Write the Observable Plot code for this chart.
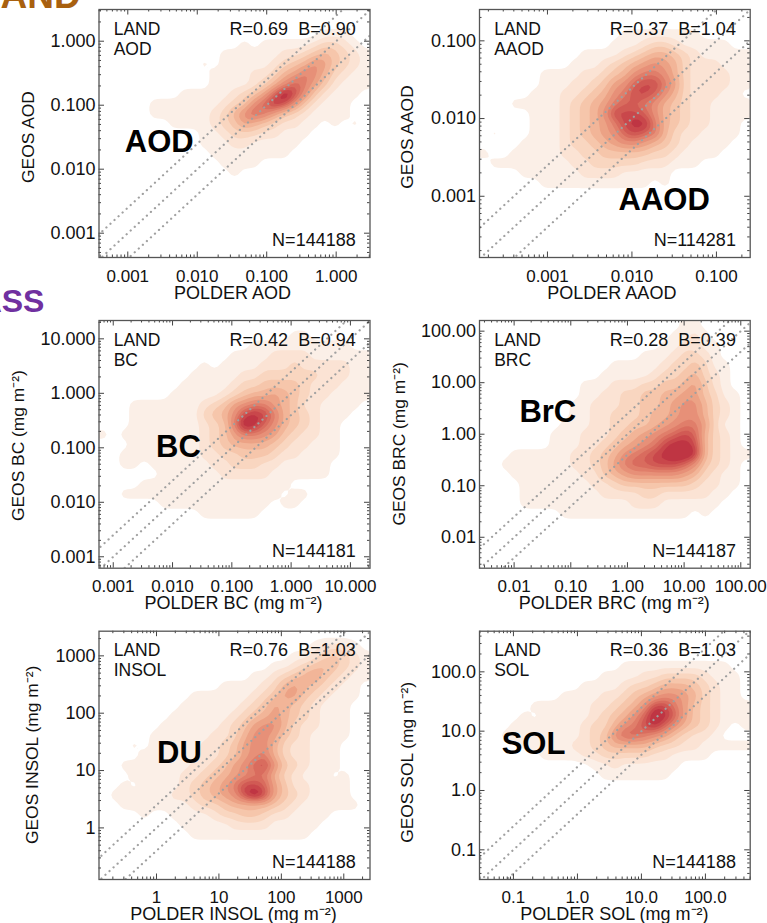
<!DOCTYPE html>
<html><head><meta charset="utf-8">
<script src="https://cdn.jsdelivr.net/npm/d3@7"></script>
<script src="https://cdn.jsdelivr.net/npm/@observablehq/plot@0.6"></script>
<style>
html,body{margin:0;padding:0;background:#fff;}
#page{position:relative;width:767px;height:923px;overflow:hidden;font-family:"Liberation Sans",Arial,sans-serif;}
#page>div{position:absolute;}
.head{font-weight:bold;font-size:37px;line-height:1;white-space:pre;}
svg{display:block;}
</style></head><body><div id="page"></div>
<script>
// Density levels (hex digit per cell, 0 = empty, c = darkest). Rows run top to bottom.
const aodGrid=["","","0000000000000000000000111","000000000000001011111233210","000000000000111111223454321","000000000010111112345764321","000000000001111223568753211","000000000001111235798642111","000000001111123469ca7421110","00000111111123479ba742111","0000011111123579864321111","00000001111234654322110101","000000000011233322111","00000000001112211111","0000000000011111111","0000000000001111","00000000000001"];
const aaodGrid=["","","0000000000000011111111","0000000000000111233211111","000000000011112345543211111","000000000111234567653222111","000000111122345788753222211","0000001112234679aa863222211","000001112234578aa9753222110","000111112345689987543221111","0000011123457aaa97543221111","00000111234568abb8543221110","010001112345679a98532211110","0000111123345677654321111","100111112233444443321111","0111111112233333222111","0000111111222211111","0000001111111111101"];
const bcGrid=["","000000000000000000011","0000000000000001111111111","000000000000011112222111111","000000000010111122232222211","000000000111112233333322211","000000001111123344443222111","000000011111234556543221111","00011111112346788654221111","00011111113457aba854321110","00011111112348cb97543211","101111111123468876432211","000111111123455554322111","001111111122334443221111","00110111111223332211111","00000011111122222111111","0000111111111111111","001111111111111111011","00000011111111111011","0000000000111111"];
const brcGrid=["0000000000000000000011","00000000000000000001121","000000000000000000112211","000000000000000011123321","0000000000000111112334311","0000000000001111123345321","0000000000111222334456421","00000000001122334455664311","00000000011222334456775321","00000000011223334556775321","00000000111223344567886311","00000001112223456789a95321","000000011122345678abba5321","00011111122345789abccb53211","00111111122346899aaa974321","00011111112245677777653211","00001111111223444444432211","0000111111112222332222211","000011111111111222111111","00000000111111111111101"];
const insolGrid=["","00000000000000000000012221","000000000000000000011234321","000000000000000001123454321","000000000000000112345643211","00000000000011112356543211","00000000011111123466432111","0000000011111123465432111","0000000111111234565432111","0000001111112346775322111","0000011111122357764321111","000101111122346775322111","000011111122346785322111","0011111112234679a7432111","0001111122345678853211101","00101111234568aa964221111","01111112234567aca64321111","00111111123345555432111111","00001001111233443221111","0000000011111222211111","000000000111111111111"];
const solGrid=["","","","0000000000000011111111111","00000000000011112233332111","00000000001111233455543211","00000000111122345677653211","00000111111223457aa86432111","00001011111234579cb96432111","0001111111233578ab975432101","001111111123479987643221","000011111223455554332211111","00000011112233333221111","00000000000112111111","0000000000001111111"];

const gridCols=27, gridRows=25, cellRepeat=3, contourBlur=0.8;
const levelColors=["#fbefe7","#fbe3d4","#f9d6c0","#f6c6ab","#f2b598","#eca285","#e79078","#e07e6a","#d96c5e","#d15a54","#c9474b","#bf3543"];
const levelThresholds=[0.5,1.5,2.5,3.5,4.5,5.5,6.5,7.5,8.3,9,9.7,10.4];
const lineRatios=[1/2.5,1,2.5];

const panelNames=["AOD","AAOD","BC","BRC","INSOL","SOL"];
const panelBig=["AOD","AAOD","BC","BrC","DU","SOL"];
const rValues=["0.69","0.37","0.42","0.28","0.76","0.36"];
const bValues=["0.90","1.04","0.94","0.39","1.03","1.03"];
const nValues=["144188","114281","144181","144187","144188","144188"];
const xTitles=["POLDER AOD","POLDER AAOD","POLDER BC (mg m⁻²)","POLDER BRC (mg m⁻²)","POLDER INSOL (mg m⁻²)","POLDER SOL (mg m⁻²)"];
const yTitles=["GEOS AOD","GEOS AAOD","GEOS BC (mg m⁻²)","GEOS BRC (mg m⁻²)","GEOS INSOL (mg m⁻²)","GEOS SOL (mg m⁻²)"];
const grids=[aodGrid,aaodGrid,bcGrid,brcGrid,insolGrid,solGrid];
const xDomains=[[0.000385,3.07],[0.000157,0.251],[0.000575,21.4],[0.00245,146.6],[0.12,2630],[0.0295,501]];
const yDomains=[[0.000417,3.13],[0.000163,0.253],[0.000617,21.7],[0.00251,161],[0.126,2690],[0.0316,484]];
const tickValues=[[0.001,0.01,0.1,1],[0.001,0.01,0.1],[0.001,0.01,0.1,1,10],[0.01,0.1,1,10,100],[1,10,100,1000],[0.1,1,10,100]];
const tickLabels=[["0.001","0.010","0.100","1.000"],["0.001","0.010","0.100"],["0.001","0.010","0.100","1.000","10.000"],["0.01","0.10","1.00","10.00","100.00"],["1","10","100","1000"],["0.1","1.0","10.0","100.0"]];

// Layout, in pixels
const frames=[
 {left:0,top:0,w:383,h:310,ml:98.5,mr:13.5,mt:9,mb:53},
 {left:383,top:0,w:384,h:310,ml:96,mr:17.3,mt:9,mb:53},
 {left:0,top:310,w:383,h:306,ml:98.5,mr:13.5,mt:10,mb:48.3},
 {left:383,top:310,w:384,h:306,ml:96,mr:17.3,mt:10,mb:48.3},
 {left:0,top:620,w:383,h:303,ml:98.5,mr:13.5,mt:10.7,mb:44},
 {left:383,top:620,w:384,h:303,ml:96,mr:17.3,mt:10.7,mb:44}];
const xTickPad=[12,12,12,12,11,11];
const xTitleBase=[41,41,40.3,40.3,40,40];
const xTitleDx=[-2,-3,-1,-0.5,-1,-0.5];
const yTitleX=[28,24,18,15.5,32,24];
const yTitleDy=[3.5,3.5,1.2,-0.5,-0.5,7];
const bigAt=[[60.2,142.7],[184.7,200.3],[79.5,136],[68.3,101.7],[80.5,132],[54,122.7]];

const lg=Math.log10;
function decode(rows){
  const out=[];
  for(let j=0;j<gridRows;j++){
    const r=(rows[j]||"").padEnd(gridCols,"0");
    for(let a=0;a<cellRepeat;a++)
      for(let i=0;i<gridCols;i++)
        for(let b=0;b<cellRepeat;b++) out.push(parseInt(r[i],16));
  }
  return out;
}
function minors(dom){
  const res=[];
  for(let e=Math.floor(dom[0]);e<=Math.ceil(dom[1]);e++)
    for(let m=2;m<10;m++){const v=e+lg(m); if(v>dom[0]&&v<dom[1]) res.push(v);}
  return res;
}
const page=document.getElementById("page");
const font='"Liberation Sans",Arial,sans-serif';
panelNames.forEach((name,k)=>{
  const f=frames[k], xd=xDomains[k].map(lg), yd=yDomains[k].map(lg), tv=tickValues[k].map(lg);
  const fmt=d=>tickLabels[k][tv.indexOf(d)];
  const ph=f.h-f.mt-f.mb, pw=f.w-f.ml-f.mr;
  const axisCol="#444";
  const diag=lineRatios.map(r=>[[xd[0]-1,xd[0]-1+lg(r)],[xd[1]+1,xd[1]+1+lg(r)]]);
  const plot=Plot.plot({
    width:f.w,height:f.h,marginLeft:f.ml,marginRight:f.mr,marginTop:f.mt,marginBottom:f.mb,
    style:{fontFamily:font,fontSize:"17px",background:"transparent",whiteSpace:"pre",color:"#111"},
    x:{domain:xd},y:{domain:yd},
    color:{type:"ordinal",domain:levelThresholds,range:levelColors},
    marks:[
      Plot.contour(decode(grids[k]),{value:Plot.identity,width:gridCols*cellRepeat,height:gridRows*cellRepeat,x1:xd[0],x2:xd[1],y1:yd[1],y2:yd[0],thresholds:levelThresholds,blur:contourBlur,fill:"value"}),
      ...diag.map(d=>Plot.line(d,{x:"0",y:"1",stroke:"#a0a0a0",strokeWidth:2.2,strokeLinecap:"round",strokeDasharray:"0.1 5.4",clip:true})),
      Plot.tickX(minors(xd),{x:d=>d,insetTop:ph-2.5,stroke:axisCol,strokeWidth:1}),
      Plot.tickX(minors(xd),{x:d=>d,insetBottom:ph-2.5,stroke:axisCol,strokeWidth:1}),
      Plot.tickX(tv,{x:d=>d,insetTop:ph-5.5,stroke:axisCol,strokeWidth:1}),
      Plot.tickX(tv,{x:d=>d,insetBottom:ph-5.5,stroke:axisCol,strokeWidth:1}),
      Plot.tickY(minors(yd),{y:d=>d,insetRight:pw-2.5,stroke:axisCol,strokeWidth:1}),
      Plot.tickY(minors(yd),{y:d=>d,insetLeft:pw-2.5,stroke:axisCol,strokeWidth:1}),
      Plot.tickY(tv,{y:d=>d,insetRight:pw-5.5,stroke:axisCol,strokeWidth:1}),
      Plot.tickY(tv,{y:d=>d,insetLeft:pw-5.5,stroke:axisCol,strokeWidth:1}),
      Plot.frame({stroke:"#555",strokeWidth:1.3}),
      Plot.axisX({ticks:tv,tickSize:0,tickPadding:xTickPad[k],label:null,tickFormat:fmt,fontSize:17}),
      Plot.axisY({ticks:tv,tickSize:0,tickPadding:3.5,label:null,tickFormat:fmt,fontSize:18}),
      Plot.text([xTitles[k]],{text:d=>d,frameAnchor:"bottom",textAnchor:"middle",lineAnchor:"bottom",dx:xTitleDx[k],dy:xTitleBase[k],fontSize:18}),
      Plot.text([yTitles[k]],{text:d=>d,frameAnchor:"left",textAnchor:"middle",lineAnchor:"middle",rotate:-90,dx:yTitleX[k]-f.ml,dy:yTitleDy[k],fontSize:17.4}),
      Plot.text(["LAND"],{text:d=>d,frameAnchor:"top-left",textAnchor:"start",lineAnchor:"bottom",dx:14.7,dy:25,fontSize:17.5}),
      Plot.text([name],{text:d=>d,frameAnchor:"top-left",textAnchor:"start",lineAnchor:"bottom",dx:14.7,dy:45,fontSize:17.5}),
      Plot.text([`R=${rValues[k]}  B=${bValues[k]}`],{text:d=>d,frameAnchor:"top-right",textAnchor:"end",lineAnchor:"bottom",dx:-14.3,dy:25,fontSize:18}),
      Plot.text([`N=${nValues[k]}`],{text:d=>d,frameAnchor:"bottom-right",textAnchor:"end",lineAnchor:"bottom",dx:-14.3,dy:-11.5,fontSize:18}),
      Plot.text([panelBig[k]],{text:d=>d,frameAnchor:"top-left",textAnchor:"middle",lineAnchor:"bottom",dx:bigAt[k][0],dy:bigAt[k][1],fontSize:31,fontWeight:"bold",fill:"#000"})
    ]
  });
  const box=document.createElement("div");
  box.style.left=f.left+"px";box.style.top=f.top+"px";
  box.appendChild(plot);page.appendChild(box);
});
const h1=document.createElement("div");h1.className="head";h1.textContent="LAND";h1.style.cssText="left:-22px;top:-23px;color:#a8600f;";page.appendChild(h1);
const h2=document.createElement("div");h2.className="head";h2.textContent="MASS";h2.style.cssText="left:-48px;top:285px;color:#7030a0;font-size:32px;";page.appendChild(h2);
</script></body></html>
